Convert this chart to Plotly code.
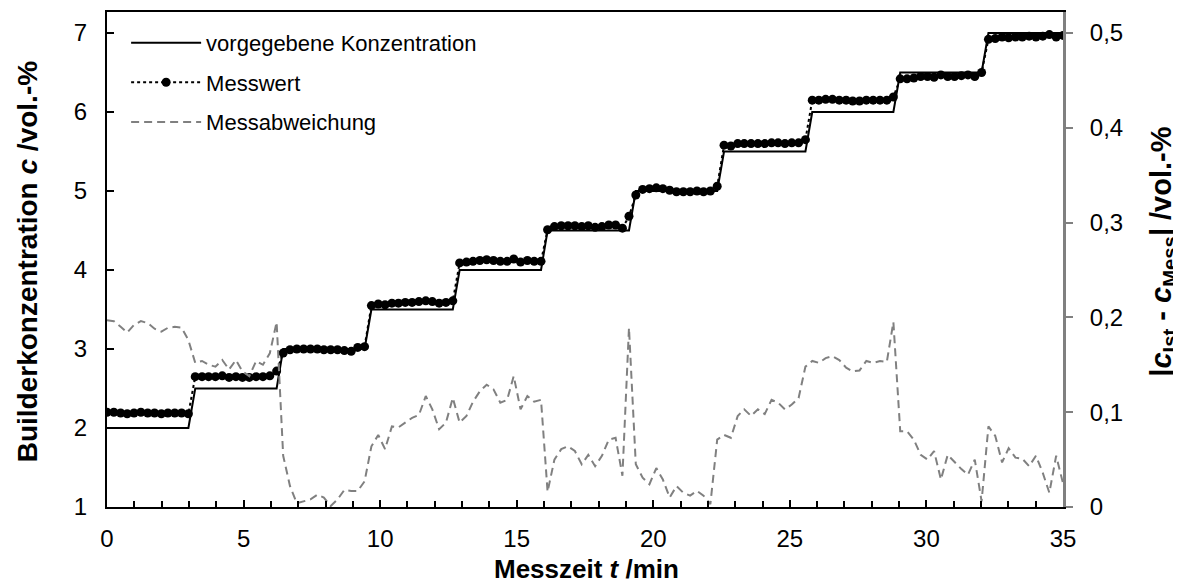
import plotly.graph_objects as go

# Sampling times (min)
t_min = [
    0.00, 0.25, 0.50, 0.74, 0.99, 1.24, 1.49, 1.74, 1.99, 2.23, 2.48, 2.73, 2.98,
    3.23, 3.48, 3.72, 3.97, 4.22, 4.47, 4.72, 4.96, 5.21, 5.46, 5.71, 5.96, 6.21,
    6.45, 6.70, 6.95, 7.20, 7.45, 7.70, 7.94, 8.19, 8.44, 8.69, 8.94, 9.18, 9.43,
    9.68, 9.93, 10.18, 10.43, 10.67, 10.92, 11.17, 11.42, 11.67, 11.91, 12.16, 12.41, 12.66,
    12.91, 13.16, 13.40, 13.65, 13.90, 14.15, 14.40, 14.65, 14.89, 15.14, 15.39, 15.64, 15.89,
    16.13, 16.38, 16.63, 16.88, 17.13, 17.38, 17.62, 17.87, 18.12, 18.37, 18.62, 18.87, 19.11,
    19.36, 19.61, 19.86, 20.11, 20.35, 20.60, 20.85, 21.10, 21.35, 21.60, 21.84, 22.09, 22.34,
    22.59, 22.84, 23.09, 23.33, 23.58, 23.83, 24.08, 24.33, 24.57, 24.82, 25.07, 25.32, 25.57,
    25.82, 26.06, 26.31, 26.56, 26.81, 27.06, 27.30, 27.55, 27.80, 28.05, 28.30, 28.55, 28.79,
    29.04, 29.29, 29.54, 29.79, 30.04, 30.28, 30.53, 30.78, 31.03, 31.28, 31.52, 31.77, 32.02,
    32.27, 32.52, 32.77, 33.01, 33.26, 33.51, 33.76, 34.01, 34.26, 34.50, 34.75, 35.00,
]

# Set-point concentration (step corners)
soll_t = [0.00, 2.98, 3.23, 6.21, 6.45, 9.43, 9.68, 12.66, 12.91, 15.89, 16.13, 19.11,
          19.36, 22.34, 22.59, 25.57, 25.82, 28.79, 29.04, 32.02, 32.27, 35.00]
soll_c = [2.0, 2.0, 2.5, 2.5, 3.0, 3.0, 3.5, 3.5, 4.0, 4.0, 4.5, 4.5,
          5.0, 5.0, 5.5, 5.5, 6.0, 6.0, 6.5, 6.5, 7.0, 7.0]

# Measured concentration
messwert = [
    2.20, 2.20, 2.19, 2.18, 2.19, 2.20, 2.19, 2.19, 2.18, 2.19, 2.19, 2.19, 2.18,
    2.65, 2.65, 2.65, 2.65, 2.66, 2.64, 2.65, 2.64, 2.64, 2.65, 2.65, 2.66, 2.72,
    2.95, 2.99, 3.00, 3.00, 3.00, 3.00, 2.99, 2.99, 2.99, 2.98, 2.97, 3.02, 3.03,
    3.55, 3.57, 3.56, 3.58, 3.58, 3.59, 3.59, 3.60, 3.61, 3.60, 3.58, 3.59, 3.61,
    4.09, 4.10, 4.11, 4.12, 4.13, 4.12, 4.11, 4.11, 4.14, 4.10, 4.12, 4.11, 4.11,
    4.51, 4.55, 4.56, 4.56, 4.56, 4.55, 4.56, 4.54, 4.55, 4.57, 4.57, 4.53, 4.68,
    4.95, 5.02, 5.03, 5.04, 5.03, 5.01, 4.99, 4.99, 4.99, 5.00, 4.99, 5.00, 5.06,
    5.58, 5.57, 5.60, 5.60, 5.60, 5.60, 5.60, 5.61, 5.61, 5.60, 5.61, 5.61, 5.65,
    6.15, 6.15, 6.16, 6.16, 6.15, 6.15, 6.14, 6.14, 6.15, 6.15, 6.15, 6.15, 6.19,
    6.42, 6.42, 6.43, 6.45, 6.45, 6.44, 6.47, 6.45, 6.45, 6.46, 6.47, 6.45, 6.50,
    6.92, 6.93, 6.95, 6.94, 6.95, 6.95, 6.96, 6.95, 6.96, 6.98, 6.95, 6.97,
]

# Absolute measurement deviation
abweichung = [
    0.197, 0.196, 0.190, 0.184, 0.192, 0.196, 0.194, 0.188, 0.185, 0.189, 0.190, 0.189, 0.176,
    0.152, 0.154, 0.150, 0.148, 0.155, 0.145, 0.155, 0.143, 0.138, 0.154, 0.150, 0.162, 0.195,
    0.054, 0.022, 0.004, 0.006, 0.008, 0.013, 0.010, 0.001, 0.008, 0.018, 0.017, 0.017, 0.027,
    0.064, 0.076, 0.061, 0.085, 0.084, 0.089, 0.094, 0.097, 0.117, 0.103, 0.082, 0.089, 0.115,
    0.089, 0.096, 0.111, 0.122, 0.129, 0.124, 0.110, 0.113, 0.138, 0.103, 0.117, 0.111, 0.113,
    0.016, 0.050, 0.061, 0.064, 0.059, 0.045, 0.055, 0.043, 0.054, 0.071, 0.073, 0.033, 0.189,
    0.045, 0.031, 0.024, 0.041, 0.029, 0.010, 0.022, 0.015, 0.012, 0.017, 0.012, 0.003, 0.071,
    0.076, 0.073, 0.096, 0.103, 0.096, 0.103, 0.098, 0.113, 0.110, 0.103, 0.108, 0.115, 0.148,
    0.154, 0.152, 0.157, 0.159, 0.155, 0.147, 0.143, 0.144, 0.154, 0.152, 0.154, 0.153, 0.195,
    0.080, 0.080, 0.071, 0.055, 0.050, 0.059, 0.029, 0.055, 0.047, 0.040, 0.034, 0.050, 0.006,
    0.085, 0.075, 0.047, 0.062, 0.052, 0.051, 0.043, 0.054, 0.036, 0.015, 0.054, 0.025,
]

x_ticks = [0, 5, 10, 15, 20, 25, 30, 35]
y_ticks = [1, 2, 3, 4, 5, 6, 7]
y2_ticks = [0, 0.1, 0.2, 0.3, 0.4, 0.5]

FONT = "Liberation Sans, Arial, sans-serif"
GRAY = "#808080"
# The page body has an 8 px margin, so the figure is 8 px smaller than the window
W, H = 1173, 580
ML, MR, MT, MB = 98.5, 118, 4, 80.5
PW = W - ML - MR
PH = H - MT - MB

def px_x(px):
    return (px - ML) / PW

def px_y(py):
    return (H - MB - py) / PH

fig = go.Figure()
fig.add_trace(go.Scatter(
    x=soll_t, y=soll_c, mode="lines", name="vorgegebene Konzentration",
    line=dict(color="black", width=2), legendgroup="a",
))
fig.add_trace(go.Scatter(
    x=t_min, y=messwert, mode="lines+markers", name="Messwert",
    line=dict(color="black", width=2, dash="dot"),
    marker=dict(color="black", size=9), legendgroup="b",
))
fig.add_trace(go.Scatter(
    x=t_min, y=abweichung, mode="lines", name="Messabweichung", yaxis="y2",
    line=dict(color=GRAY, width=2, dash="8px,5px"), legendgroup="c",
))

fig.update_layout(
    width=W, height=H,
    margin=dict(l=ML, r=MR, t=MT, b=MB, autoexpand=False),
    plot_bgcolor="white", paper_bgcolor="white",
    separators=",.",
    font=dict(family=FONT, size=24, color="black"),
    showlegend=True,
    legend=dict(
        x=0.02, y=0.98, xanchor="left", yanchor="top",
        bgcolor="rgba(0,0,0,0)", font=dict(size=22, family=FONT),
        itemwidth=70, tracegroupgap=8,
    ),
    xaxis=dict(
        range=[0, 35], tickvals=x_ticks, ticks="inside", ticklen=7, tickwidth=1.5,
        tickcolor="black", showline=True, linecolor="black", linewidth=2, mirror=True,
        showgrid=False, zeroline=False, automargin=False, ticklabelstandoff=9,
        minor=dict(dtick=1, ticks="inside", ticklen=6, tickcolor="black", tickwidth=1.5),
        tickfont=dict(size=24),
    ),
    yaxis=dict(
        range=[1, 7.266], tickvals=y_ticks, ticks="inside", ticklen=7, tickwidth=1.5,
        tickcolor="black", showline=True, linecolor="black", linewidth=2,
        showgrid=False, zeroline=False, automargin=False, ticklabelstandoff=13,
        tickfont=dict(size=24),
    ),
    yaxis2=dict(
        overlaying="y", side="right",
        range=[0, 0.522], tickvals=y2_ticks, ticks="outside", ticklen=7, tickwidth=1.5,
        tickcolor=GRAY, showline=True, linecolor=GRAY, linewidth=3,
        showgrid=False, zeroline=False, automargin=False, ticklabelstandoff=12,
        tickfont=dict(size=24),
    ),
    annotations=[
        dict(text="<b>Messzeit <i>t</i> /min</b>", xref="paper", yref="paper",
             x=px_x(578), y=px_y(579), xanchor="center", yanchor="bottom",
             showarrow=False, font=dict(size=26, family=FONT)),
        dict(text="<b>Builderkonzentration <i>c</i> /vol.-%</b>", xref="paper", yref="paper",
             x=px_x(19), y=px_y(254), textangle=-90, xanchor="center", yanchor="middle",
             showarrow=False, font=dict(size=28, family=FONT)),
        dict(text="<b>|<i>c</i><sub>Ist</sub> - <i>c</i><sub>Mess</sub>| /vol.-%</b>",
             xref="paper", yref="paper",
             x=px_x(1155), y=px_y(244), textangle=-90, xanchor="center", yanchor="middle",
             showarrow=False, font=dict(size=29, family=FONT)),
    ],
)

fig.write_html("out.html")
